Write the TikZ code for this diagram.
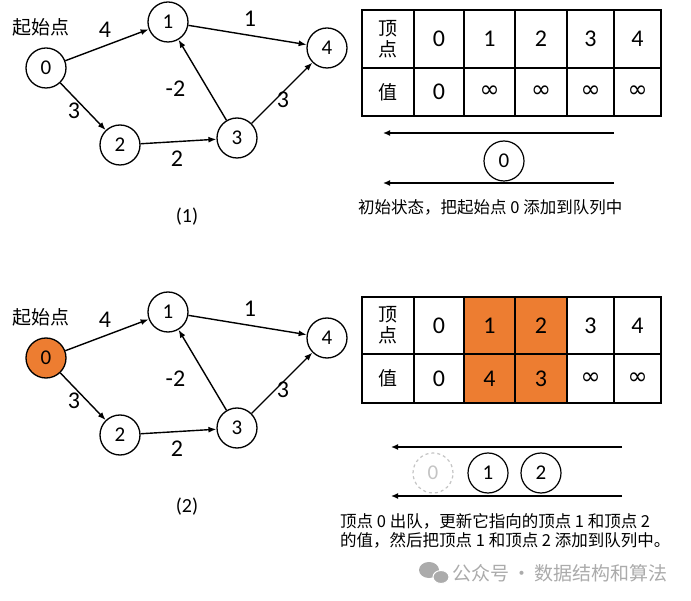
\documentclass[tikz,border=0pt]{standalone}
\usepackage{fontspec}
\setmainfont{Carlito}
\newfontfamily\cjk{Noto Sans CJK SC}
\newfontfamily\simbolo{DejaVu Sans}
\usepackage{xcolor}
\usetikzlibrary{arrows.meta, positioning}
\definecolor{naranja}{HTML}{ED7D31}
\definecolor{gris}{HTML}{C4C4C4}
\definecolor{marca}{HTML}{ABABAB}
\newcommand{\infinito}{{\simbolo\fontsize{24}{24}\selectfont ∞}}
\tikzstyle{vertice} = [circle, 
draw=black, 
line width=1.3pt, 
minimum size=40pt, 
inner sep=0pt, 
font=\fontsize{21}{21}\selectfont]
\tikzstyle{peso} = [inner sep=0pt, font=\fontsize{24}{24}\selectfont]
\tikzstyle{arista} = [line width=1.4pt,-{Latex[length=8pt,width=6pt]},draw=black]
\tikzstyle{celda} = [rectangle, 
draw=black, 
line width=1.2pt, 
inner sep=0pt, 
outer sep=0pt, 
text centered, 
font=\fontsize{24}{24}\selectfont]
\tikzstyle{cola} = [line width=1.8pt,-{Latex[length=7pt,width=6pt]},draw=black]
\tikzstyle{texto} = [inner sep=0pt, anchor=west, align=left, font=\cjk\fontsize{16.5}{19}\selectfont]

\begin{document}
\begin{tikzpicture}[x=1pt, y=-1pt]
        \useasboundingbox [fill=white] (0,0) rectangle (691,601);

        % Grafos (1) y (2)
        \foreach \dy/\g/\col in {0/1/white, 290/2/naranja} {
            \node [vertice, fill=\col] (v\g-0) at (46,{68+\dy}) {0};
            \node [vertice] (v\g-1) at (168,{22+\dy}) {1};
            \node [vertice] (v\g-2) at (120,{145+\dy}) {2};
            \node [vertice] (v\g-3) at (237,{138+\dy}) {3};
            \node [vertice] (v\g-4) at (327,{48+\dy}) {4};
            \node [font=\cjk\fontsize{19}{19}\selectfont, inner sep=0pt] (ini\g) at (41,{27+\dy}) {起始点};
            \node [font=\fontsize{20}{20}\selectfont, inner sep=0pt] (fig\g) at (187,{217+\dy}) {(\g)};

            \draw [arista] (v\g-0) -- node [peso, xshift=-2pt, yshift=15pt] {4} (v\g-1);
            \draw [arista] (v\g-0) -- node [peso, xshift=-9pt, yshift=-4.5pt] {3} (v\g-2);
            \draw [arista] (v\g-1) -- node [peso, xshift=2.5pt, yshift=16pt] {1} (v\g-4);
            \draw [arista] (v\g-2) -- node [peso, xshift=-1.5pt, yshift=-17.5pt] {2} (v\g-3);
            \draw [arista] (v\g-3) -- node [peso, xshift=-27pt, yshift=-9pt] {-2} (v\g-1);
            \draw [arista] (v\g-3) -- node [peso, xshift=1pt, yshift=-7pt] {3} (v\g-4);
        }

        % Tabla (1)
        \node [celda, minimum width=52pt, minimum height=58pt, align=center, font=\cjk\fontsize{19}{21}\selectfont] (ta-h) at (388,39) {顶\\点};
        \node [celda, minimum width=52pt, minimum height=48pt, font=\cjk\fontsize{19}{19}\selectfont] (ta-v) at (388,92) {值};
        \foreach \i/\c/\w/\v in {0/439/50/0, 1/489.5/51/\infinito, 2/541/52/\infinito, 3/590.5/47/\infinito, 4/637.5/47/\infinito} {
            \node [celda, minimum width=\w pt, minimum height=58pt] (ta-h\i) at (\c,39) {\i};
            \node [celda, minimum width=\w pt, minimum height=48pt] (ta-v\i) at (\c,92) {\v};
        }

        % Tabla (2)
        \node [celda, minimum width=52pt, minimum height=57pt, align=center, font=\cjk\fontsize{19}{21}\selectfont] (tb-h) at (388,325.5) {顶\\点};
        \node [celda, minimum width=52pt, minimum height=49pt, font=\cjk\fontsize{19}{19}\selectfont] (tb-v) at (388,378.5) {值};
        \foreach \i/\c/\w/\v/\col in {0/439/50/0/white, 1/489.5/51/4/naranja, 2/541/52/3/naranja, 3/590.5/47/\infinito/white, 4/637.5/47/\infinito/white} {
            \node [celda, fill=\col, minimum width=\w pt, minimum height=57pt] (tb-h\i) at (\c,325.5) {\i};
            \node [celda, fill=\col, minimum width=\w pt, minimum height=49pt] (tb-v\i) at (\c,378.5) {\v};
        }

        % Cola (1)
        \coordinate (qa1) at (614,133);
        \coordinate (qa2) at (383,133);
        \coordinate (qa3) at (614,183);
        \coordinate (qa4) at (383,183);
        \path [cola] (qa1) -- (qa2);
        \path [cola] (qa3) -- (qa4);
        \node [vertice, line width=1.2pt] (qa-0) at (504,161) {0};
        \node [texto] (txa) at (358,207) {初始状态，把起始点 0 添加到队列中};

        % Cola (2)
        \coordinate (qb1) at (622,447);
        \coordinate (qb2) at (391,447);
        \coordinate (qb3) at (622,496);
        \coordinate (qb4) at (391,496);
        \path [cola] (qb1) -- (qb2);
        \path [cola] (qb3) -- (qb4);
        \node [vertice, draw=gris, text=gris, dashed, line width=1.2pt] (qb-0) at (433,473) {0};
        \node [vertice, line width=1.2pt] (qb-1) at (488,473) {1};
        \node [vertice, line width=1.2pt] (qb-2) at (541,473) {2};
        \node [texto] (txb) at (340,530.5) {顶点 0 出队，更新它指向的顶点 1 和顶点 2\\的值，然后把顶点 1 和顶点 2 添加到队列中。};

        % Marca de agua
        \fill [marca] (429,570) ellipse [x radius=10pt, y radius=8pt];
        \fill [marca, draw=white, line width=1pt] (441,577) ellipse [x radius=8pt, y radius=6.5pt];
        \node [texto, text=marca, font=\cjk\fontsize{19}{19}\selectfont] (wm) at (452,573) {公众号\,·\,数据结构和算法};
    \end{tikzpicture}
\end{document}
